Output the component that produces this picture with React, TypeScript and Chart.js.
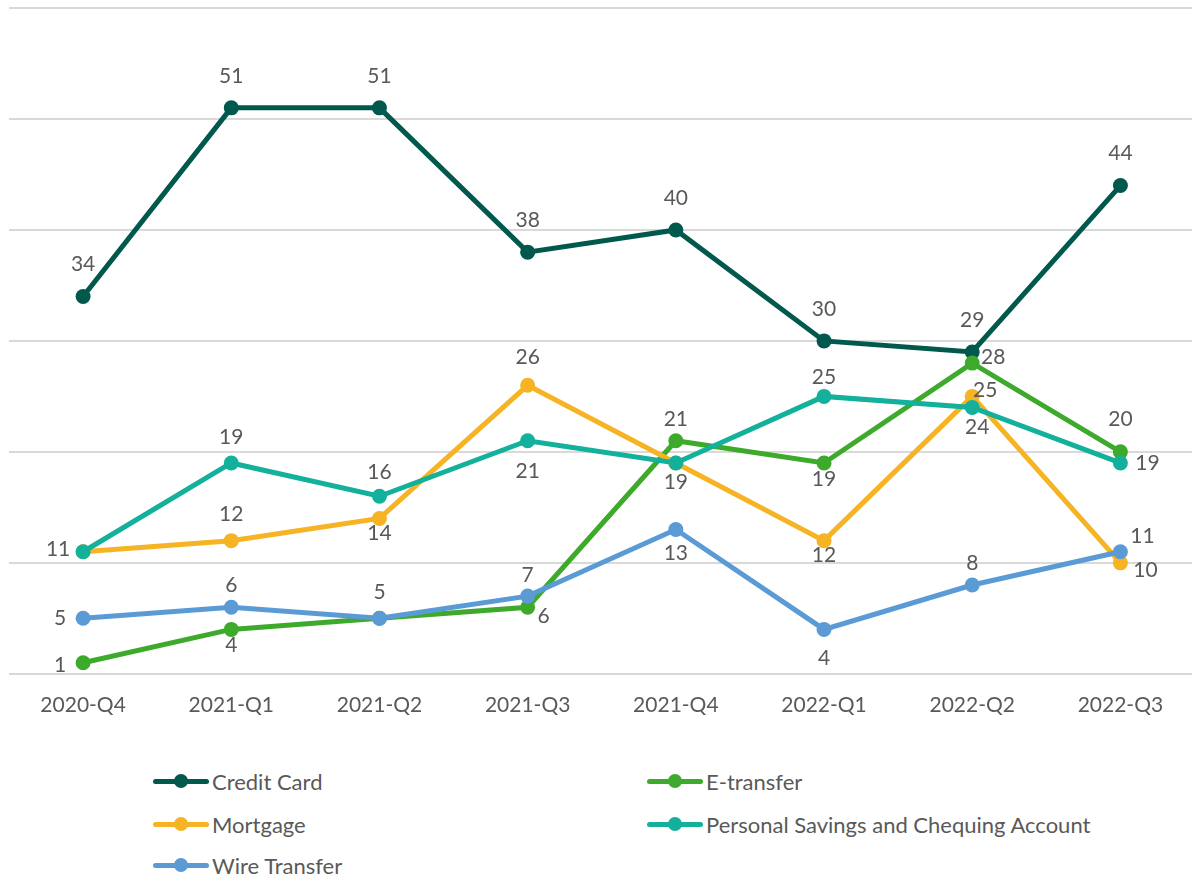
import React, { useEffect, useRef } from "react";
import { Chart, registerables } from "chart.js";

Chart.register(...registerables);

// ---------- data ----------
const categories = ["2020-Q4", "2021-Q1", "2021-Q2", "2021-Q3", "2021-Q4", "2022-Q1", "2022-Q2", "2022-Q3"];
const creditCard = [34, 51, 51, 38, 40, 30, 29, 44];
const eTransfer = [1, 4, 5, 6, 21, 19, 28, 20];
const mortgage = [11, 12, 14, 26, 19, 12, 25, 10];
const personalSavings = [11, 19, 16, 21, 19, 25, 24, 19];
const wireTransfer = [5, 6, 5, 7, 13, 4, 8, 11];
const seriesNames = ["Credit Card", "E-transfer", "Mortgage", "Personal Savings and Chequing Account", "Wire Transfer"];
const yMin = 0;
const yMax = 60;
const yStep = 10;

// ---------- styles ----------
const FONT = "Lato, 'Open Sans', sans-serif";
const TEXT = "#595959";
const GRID = "#D9D9D9";
const colors = ["#00594C", "#3DAA2C", "#F6B324", "#13B09B", "#5B9BD5"];

// label placement relative to each point [dx, dy]; null = label not shown
type Off = [number, number] | null;
const labelOffsets: Off[][] = [
  [[0, -32], [0, -32], [0, -32], [0, -32], [0, -32], [0, -32], [0, -32], [0, -32]],
  [[-23, 3], [0, 16], null, [16, 9], [0, -22], [0, 16], [21, -6], [0, -33]],
  [null, [0, -26], [0, 15], [0, -28], null, [0, 15], [13, -6], [25, 7]],
  [[-25, -3], [0, -26], [0, -24], [0, 30], [0, 19], [0, -19], [5, 20], [27, 0]],
  [[-23, 0], [0, -22], [0, -26], [0, -21], [0, 24], [0, 29], [0, -22], [22, -16]],
];

const pointLabels = {
  id: "pointLabels",
  afterDatasetsDraw(chart: any) {
    const ctx = chart.ctx;
    ctx.save();
    ctx.font = `21px ${FONT}`;
    ctx.fillStyle = TEXT;
    ctx.textAlign = "center";
    ctx.textBaseline = "middle";
    chart.data.datasets.forEach((ds: any, di: number) => {
      const meta = chart.getDatasetMeta(di);
      const offs: Off[] = ds.labelOffsets || [];
      meta.data.forEach((pt: any, i: number) => {
        const o = offs[i];
        if (!o) return;
        ctx.fillText(String(ds.data[i]), pt.x + o[0], pt.y + o[1]);
      });
    });
    ctx.restore();
  },
};

function LegendItem({ left, top, color, label }: { left: number; top: number; color: string; label: string }) {
  return (
    <div style={{ position: "absolute", left, top: top - 14, height: 28, display: "flex", alignItems: "center" }}>
      <div style={{ position: "relative", width: 56, height: 28 }}>
        <div style={{ position: "absolute", left: 0, top: 11.5, width: 56, height: 5, borderRadius: 3, background: color }} />
        <div style={{ position: "absolute", left: 21, top: 7, width: 14, height: 14, borderRadius: 7, background: color }} />
      </div>
      <span style={{ marginLeft: 3, font: `22px ${FONT}`, color: TEXT, whiteSpace: "nowrap" }}>{label}</span>
    </div>
  );
}

export default function App() {
  const ref = useRef<HTMLCanvasElement | null>(null);

  useEffect(() => {
    if (!ref.current) return;
    const seriesData = [creditCard, eTransfer, mortgage, personalSavings, wireTransfer];
    const chart = new Chart(ref.current, {
      type: "line",
      data: {
        labels: categories,
        datasets: seriesData.map((d, i) => ({
          label: seriesNames[i],
          data: d,
          borderColor: colors[i],
          backgroundColor: colors[i],
          pointBackgroundColor: colors[i],
          pointBorderColor: colors[i],
          borderWidth: 5,
          pointRadius: 7.5,
          pointBorderWidth: 0,
          tension: 0,
          order: seriesData.length - i,
          labelOffsets: labelOffsets[i],
        })) as any,
      },
      options: {
        responsive: false,
        animation: false,
        layout: { padding: { left: 9, right: 0, top: 8, bottom: 3 } },
        plugins: { legend: { display: false }, tooltip: { enabled: false } },
        scales: {
          x: {
            offset: true,
            grid: { display: false, drawTicks: false },
            border: { display: false },
            ticks: { color: TEXT, font: { family: FONT, size: 21 }, padding: 19, maxRotation: 0 },
          },
          y: {
            min: yMin,
            max: yMax,
            ticks: { display: false, stepSize: yStep },
            grid: { color: GRID, lineWidth: 2, drawTicks: false },
            border: { display: false },
          },
        },
      },
      plugins: [pointLabels],
    } as any);
    return () => chart.destroy();
  }, []);

  const col1 = 153;
  const col2 = 647;
  return (
    <div style={{ position: "absolute", left: 0, top: 0, width: 1192, height: 879, overflow: "hidden", background: "#fff" }}>
      <canvas ref={ref} width={1202} height={740} style={{ position: "absolute", left: 0, top: 0 }} />
      <LegendItem left={col1} top={781} color={colors[0]} label={seriesNames[0]} />
      <LegendItem left={col2} top={781} color={colors[1]} label={seriesNames[1]} />
      <LegendItem left={col1} top={824} color={colors[2]} label={seriesNames[2]} />
      <LegendItem left={col2} top={824} color={colors[3]} label={seriesNames[3]} />
      <LegendItem left={col1} top={865} color={colors[4]} label={seriesNames[4]} />
    </div>
  );
}
